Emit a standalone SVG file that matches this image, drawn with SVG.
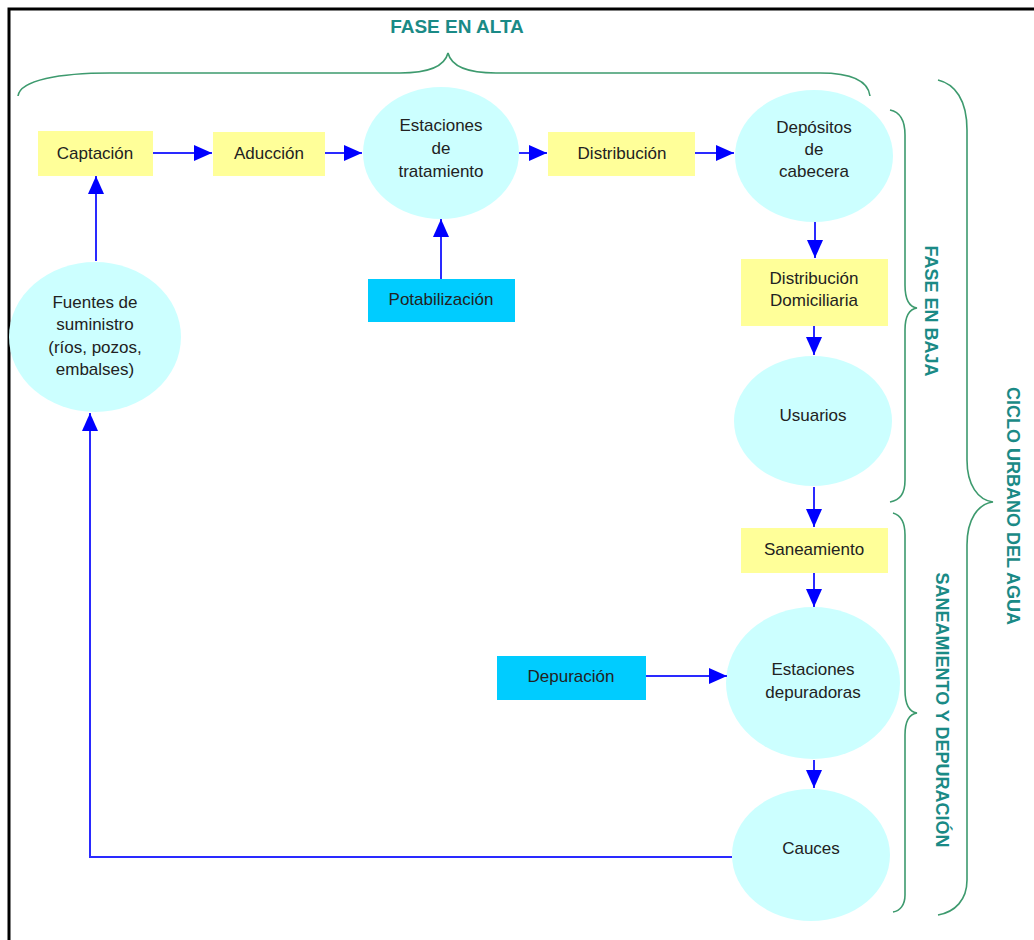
<svg xmlns="http://www.w3.org/2000/svg" width="1034" height="940" viewBox="0 0 1034 940">
<style>
.t{font-family:"Liberation Sans",Arial,sans-serif;font-size:17px;fill:#222;text-anchor:middle;dominant-baseline:central}
.h{font-family:"Liberation Sans",Arial,sans-serif;font-size:18px;font-weight:bold;fill:#1A8A86;text-anchor:middle;dominant-baseline:central}
.y{fill:#FFFF99}
.c{fill:#00CCFF}
.e{fill:#CCFFFF}
.br{fill:none;stroke:#3D9A6E;stroke-width:1.6}
.ln{fill:none;stroke:#2A2AFF;stroke-width:2;marker-end:url(#ah)}
</style>
<defs>
<marker id="ah" viewBox="0 0 18 16" refX="18" refY="8" markerWidth="18" markerHeight="16" markerUnits="userSpaceOnUse" orient="auto">
<path d="M0,0 L18,8 L0,16 z" fill="#0000FF"/>
</marker>
</defs>
<rect x="0" y="0" width="1034" height="940" fill="#fff"/>
<path d="M9,940 V9 H1034" fill="none" stroke="#000" stroke-width="3"/>

<g id="braces">
<path class="br" d="M18,96 C20,80 60,73 110,73 L400,73 C430,73 445,65 448,53 C451,65 466,73 496,73 L820,73 C850,73 868,80 870,96"/>
<path class="br" d="M890,110 C900,112 905,120 905,135 L905,285 C905,300 910,307 917,308 C910,309 905,316 905,330 L905,480 C905,494 900,500 890,502"/>
<path class="br" d="M938,80 C955,84 967,100 967,130 L967,460 C967,485 978,500 993,502 C978,504 967,519 967,545 L967,880 C967,900 955,912 938,915"/>
<path class="br" d="M893,513 C900,515 905,522 905,535 L905,690 C905,705 910,712 917,713 C910,714 905,721 905,735 L905,895 C905,905 900,911 893,912"/>
</g>
<g id="headers">
<text class="h" x="457" y="26" style="font-size:19px">FASE EN ALTA</text>
<text class="h" transform="translate(931,311) rotate(90)">FASE EN BAJA</text>
<text class="h" transform="translate(1013,506) rotate(90)">CICLO URBANO DEL AGUA</text>
<text class="h" transform="translate(942,710) rotate(90)">SANEAMIENTO Y DEPURACIÓN</text>
</g>

<g id="captacion"><rect class="y" x="38" y="131" width="115" height="45"/><text class="t" x="95" y="153">Captación</text></g>
<g id="aduccion"><rect class="y" x="213" y="132" width="112" height="44"/><text class="t" x="269" y="153">Aducción</text></g>
<g id="estaciones-tratamiento"><ellipse class="e" cx="441" cy="153" rx="78" ry="66"/>
<text class="t" x="441" y="125">Estaciones</text><text class="t" x="441" y="148">de</text><text class="t" x="441" y="171">tratamiento</text></g>
<g id="distribucion"><rect class="y" x="548" y="132" width="147" height="44"/><text class="t" x="622" y="153">Distribución</text></g>
<g id="depositos"><ellipse class="e" cx="814" cy="156" rx="79" ry="66"/>
<text class="t" x="814" y="127">Depósitos</text><text class="t" x="814" y="149">de</text><text class="t" x="814" y="171">cabecera</text></g>
<g id="distribucion-domiciliaria"><rect class="y" x="741" y="259" width="147" height="67"/>
<text class="t" x="814" y="278">Distribución</text><text class="t" x="814" y="300">Domiciliaria</text></g>
<g id="usuarios"><ellipse class="e" cx="813" cy="421" rx="79" ry="65"/><text class="t" x="813" y="415">Usuarios</text></g>
<g id="saneamiento"><rect class="y" x="741" y="528" width="147" height="45"/><text class="t" x="814" y="549">Saneamiento</text></g>
<g id="estaciones-depuradoras"><ellipse class="e" cx="813" cy="683" rx="87" ry="76"/>
<text class="t" x="813" y="669">Estaciones</text><text class="t" x="813" y="692">depuradoras</text></g>
<g id="cauces"><ellipse class="e" cx="811" cy="855" rx="79" ry="66"/><text class="t" x="811" y="848">Cauces</text></g>
<g id="depuracion"><rect class="c" x="497" y="656" width="149" height="44"/><text class="t" x="571" y="676">Depuración</text></g>
<g id="potabilizacion"><rect class="c" x="368" y="279" width="147" height="43"/><text class="t" x="441" y="299">Potabilización</text></g>
<g id="fuentes"><ellipse class="e" cx="95" cy="337" rx="86" ry="75"/>
<text class="t" x="95" y="302">Fuentes de</text><text class="t" x="95" y="324">suministro</text><text class="t" x="95" y="347">(ríos, pozos,</text><text class="t" x="95" y="369">embalses)</text></g>

<g id="connectors">
<path class="ln" d="M153,153 H212"/>
<path class="ln" d="M325,153 H362"/>
<path class="ln" d="M519,153 H547"/>
<path class="ln" d="M695,153 H734"/>
<path class="ln" d="M815,222 V258"/>
<path class="ln" d="M814,326 V355"/>
<path class="ln" d="M814,487 V527"/>
<path class="ln" d="M814,573 V607"/>
<path class="ln" d="M814,760 V788"/>
<path class="ln" d="M646,676 H727"/>
<path class="ln" d="M441,279 V219"/>
<path class="ln" d="M96,261 V176"/>
<path class="ln" d="M732,857 H90 V413"/>
</g>
</svg>
